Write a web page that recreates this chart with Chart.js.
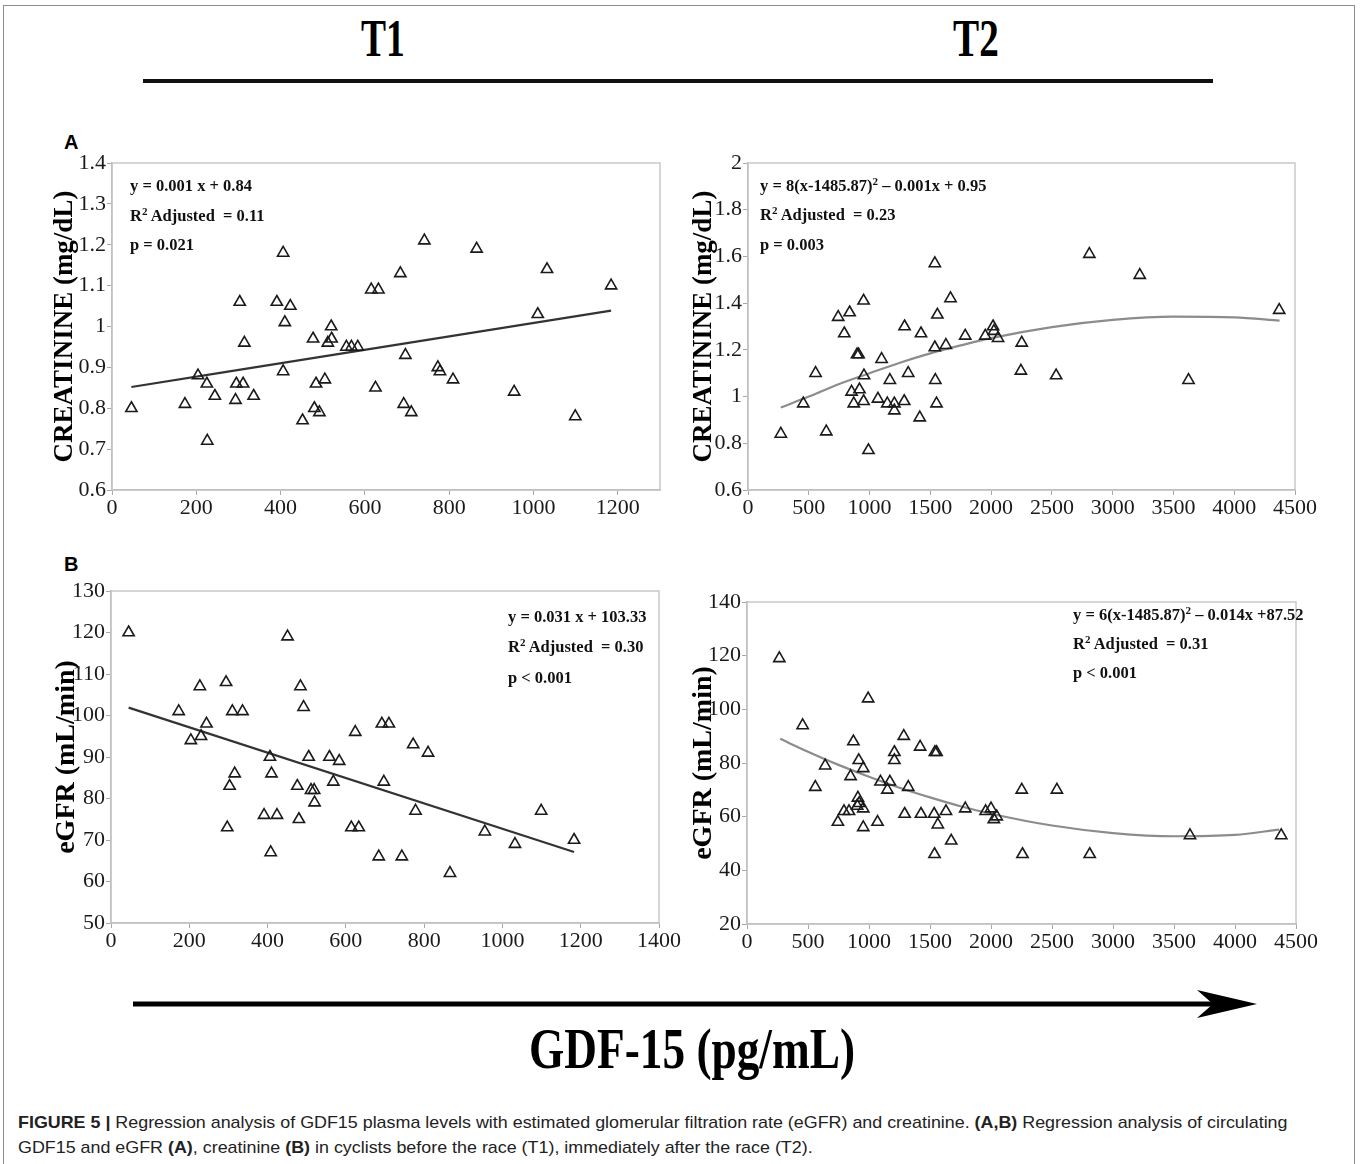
<!DOCTYPE html>
<html>
<head>
<meta charset="utf-8">
<script src="https://cdn.jsdelivr.net/npm/chart.js@4.4.0/dist/chart.umd.min.js"></script>
<style>
body { margin: 0; background: #fff; }
#page { position: relative; width: 1360px; height: 1164px; overflow: hidden; }
.frame { position: absolute; left: 3px; top: 5px; width: 1350px; height: 1200px; border: 1px solid #8c8c8c; }
canvas { position: absolute; }
.t { position: absolute; white-space: nowrap; line-height: 1; font-family: "Liberation Serif", serif; font-weight: bold; color: #000; }
.note { position: absolute; white-space: nowrap; line-height: 1; font: bold 16.5px "Liberation Serif", serif; color: #111; }
.note sup { font-size: 11px; vertical-align: 6px; line-height: 0; }
.letter { position: absolute; line-height: 1; font: bold 20px "Liberation Sans", sans-serif; color: #000; }
.cap { position: absolute; left: 18px; white-space: nowrap; line-height: 1; font: 17px "Liberation Sans", sans-serif; color: #222; transform-origin: 0 0; }
</style>
</head>
<body>
<div id="page">
  <div class="frame"></div>

  <div class="t" id="h1" style="font-size:52px; top:13px;">T1</div>
  <div class="t" id="h2" style="font-size:52px; top:13px;">T2</div>
  <svg style="position:absolute;left:0;top:0" width="1360" height="1164">
    <line x1="143" y1="81" x2="1213" y2="81" stroke="#111" stroke-width="4"/>
    <line x1="133" y1="1004" x2="1215" y2="1004" stroke="#000" stroke-width="5"/>
    <path d="M1257,1004 L1197,990 L1213,1004 L1197,1018 Z" fill="#000"/>
  </svg>

  <div class="letter" style="left:64px; top:131px;">A</div>
  <div class="letter" style="left:64px; top:553px;">B</div>

  <canvas id="crT1" width="645" height="380" style="left:40px; top:140px;"></canvas>
  <canvas id="crT2" width="644" height="380" style="left:676px; top:140px;"></canvas>
  <canvas id="gfT1" width="645" height="385" style="left:39px; top:568px;"></canvas>
  <canvas id="gfT2" width="646" height="375" style="left:675px; top:579px;"></canvas>

  <div class="note" style="left:130px; top:176px;">y = 0.001 x + 0.84</div>
  <div class="note" style="left:130px; top:206px;">R<sup>2</sup> Adjusted&nbsp; = 0.11</div>
  <div class="note" style="left:130px; top:235px;">p = 0.021</div>

  <div class="note" style="left:760px; top:176px;">y = 8(x-1485.87)<sup>2</sup> – 0.001x + 0.95</div>
  <div class="note" style="left:760px; top:205px;">R<sup>2</sup> Adjusted&nbsp; = 0.23</div>
  <div class="note" style="left:760px; top:235px;">p = 0.003</div>

  <div class="note" style="left:508px; top:607px;">y = 0.031 x + 103.33</div>
  <div class="note" style="left:508px; top:637px;">R<sup>2</sup> Adjusted&nbsp; = 0.30</div>
  <div class="note" style="left:508px; top:668px;">p &lt; 0.001</div>

  <div class="note" style="left:1073px; top:605px;">y = 6(x-1485.87)<sup>2</sup> – 0.014x +87.52</div>
  <div class="note" style="left:1073px; top:634px;">R<sup>2</sup> Adjusted&nbsp; = 0.31</div>
  <div class="note" style="left:1073px; top:663px;">p &lt; 0.001</div>

  <div class="t" id="gdf" style="font-size:57px; top:1020px;">GDF-15 (pg/mL)</div>

  <div class="cap" id="cap1" style="top:1113px;"><b>FIGURE 5 |</b> Regression analysis of GDF15 plasma levels with estimated glomerular filtration rate (eGFR) and creatinine. <b>(A,B)</b> Regression analysis of circulating</div>
  <div class="cap" id="cap2" style="top:1138px;">GDF15 and eGFR <b>(A)</b>, creatinine <b>(B)</b> in cyclists before the race (T1), immediately after the race (T2).</div>
</div>

<script>
// ---- A, T1: creatinine vs GDF-15 ----
var crT1_x = [46, 173, 204, 225, 226, 244, 293, 295, 311, 303, 314, 336, 391, 406, 410, 406, 423, 452, 477, 480, 484, 492, 505, 512, 520, 521, 556, 568, 583, 615, 632, 625, 684, 696, 692, 710, 741, 773, 778, 809, 865, 954, 1010, 1032, 1099, 1184];
var crT1_y = [0.80, 0.81, 0.88, 0.86, 0.72, 0.83, 0.82, 0.86, 0.86, 1.06, 0.96, 0.83, 1.06, 1.18, 1.01, 0.89, 1.05, 0.77, 0.97, 0.80, 0.86, 0.79, 0.87, 0.96, 1.00, 0.97, 0.95, 0.95, 0.95, 1.09, 1.09, 0.85, 1.13, 0.93, 0.81, 0.79, 1.21, 0.90, 0.89, 0.87, 1.19, 0.84, 1.03, 1.14, 0.78, 1.10];
var crT1_fitX = [46, 1184];
var crT1_fitY = [0.852, 1.039];
var crT1_xTicks = [0, 200, 400, 600, 800, 1000, 1200];
var crT1_yTicks = [0.6, 0.7, 0.8, 0.9, 1, 1.1, 1.2, 1.3, 1.4];

// ---- A, T2: creatinine vs GDF-15 ----
var crT2_x = [270, 455, 556, 644, 742, 792, 836, 852, 870, 897, 910, 917, 951, 954, 951, 991, 1069, 1099, 1146, 1167, 1204, 1204, 1285, 1288, 1318, 1413, 1423, 1537, 1537, 1541, 1551, 1558, 1628, 1666, 1787, 1952, 2016, 2023, 2057, 2252, 2245, 2535, 2808, 3223, 3624, 4370];
var crT2_y = [0.84, 0.97, 1.10, 0.85, 1.34, 1.27, 1.36, 1.02, 0.97, 1.18, 1.18, 1.03, 1.41, 1.09, 0.98, 0.77, 0.99, 1.16, 0.97, 1.07, 0.97, 0.94, 0.98, 1.30, 1.10, 0.91, 1.27, 1.57, 1.21, 1.07, 0.97, 1.35, 1.22, 1.42, 1.26, 1.26, 1.30, 1.28, 1.25, 1.23, 1.11, 1.09, 1.61, 1.52, 1.07, 1.37];
var crT2_fitX = [270, 500, 750, 1000, 1250, 1500, 1750, 2000, 2500, 3000, 3500, 4000, 4373];
var crT2_fitY = [0.953, 1.00, 1.054, 1.10, 1.145, 1.185, 1.219, 1.25, 1.297, 1.328, 1.342, 1.339, 1.325];
var crT2_xTicks = [0, 500, 1000, 1500, 2000, 2500, 3000, 3500, 4000, 4500];
var crT2_yTicks = [0.6, 0.8, 1, 1.2, 1.4, 1.6, 1.8, 2];

// ---- B, T1: eGFR vs GDF-15 ----
var gfT1_x = [45, 173, 204, 227, 230, 244, 294, 297, 303, 310, 316, 336, 391, 406, 408, 410, 424, 451, 476, 480, 484, 492, 505, 511, 519, 520, 558, 568, 583, 614, 624, 633, 684, 692, 697, 710, 743, 772, 778, 810, 866, 955, 1032, 1099, 1183];
var gfT1_y = [120, 101, 94, 107, 95, 98, 108, 73, 83, 101, 86, 101, 76, 90, 67, 86, 76, 119, 83, 75, 107, 102, 90, 82, 82, 79, 90, 84, 89, 73, 96, 73, 66, 98, 84, 98, 66, 93, 77, 91, 62, 72, 69, 77, 70];
var gfT1_fitX = [45, 1183];
var gfT1_fitY = [101.9, 67.1];
var gfT1_xTicks = [0, 200, 400, 600, 800, 1000, 1200, 1400];
var gfT1_yTicks = [50, 60, 70, 80, 90, 100, 110, 120, 130];

// ---- B, T2: eGFR vs GDF-15 ----
var gfT2_x = [265, 456, 560, 641, 745, 795, 836, 849, 872, 903, 909, 916, 919, 953, 953, 953, 993, 1070, 1094, 1151, 1171, 1208, 1208, 1285, 1292, 1322, 1419, 1426, 1534, 1537, 1540, 1554, 1564, 1631, 1674, 1789, 1956, 2000, 2023, 2047, 2252, 2258, 2540, 2809, 3631, 4379];
var gfT2_y = [119, 94, 71, 79, 58, 62, 62, 75, 88, 64, 67, 81, 65, 78, 63, 56, 104, 58, 73, 70, 73, 84, 81, 90, 61, 71, 86, 61, 61, 46, 84, 84, 57, 62, 51, 63, 62, 63, 59, 60, 70, 46, 70, 46, 53, 53];
var gfT2_fitX = [272, 500, 750, 1000, 1250, 1500, 1750, 2000, 2500, 3000, 3500, 4000, 4362];
var gfT2_fitY = [89.0, 84.2, 79.3, 74.9, 70.8, 67.2, 63.9, 61.1, 56.7, 53.9, 52.7, 53.2, 55.2];
var gfT2_xTicks = [0, 500, 1000, 1500, 2000, 2500, 3000, 3500, 4000, 4500];
var gfT2_yTicks = [20, 40, 60, 80, 100, 120, 140];

function toPoints(xs, ys) {
    var out = [];
    for (var i = 0; i < xs.length; i++) out.push({ x: xs[i], y: ys[i] });
    return out;
}

function fmt(v) {
    return String(Number(v.toFixed(2)));
}

// light grey box round the plot area
var boxPlugin = {
    id: 'box',
    beforeDatasetsDraw: function (chart) {
        var a = chart.chartArea, c = chart.ctx;
        c.save();
        c.strokeStyle = '#c9c9c9';
        c.lineWidth = 1.5;
        c.strokeRect(a.left, a.top, a.right - a.left, a.bottom - a.top);
        c.restore();
    }
};

function panel(id, xs, ys, fitX, fitY, fitColor, xTicks, yTicks, xMax, yTitle, titleSize, titlePad) {
    return new Chart(document.getElementById(id), {
        type: 'scatter',
        data: {
            datasets: [{
                data: toPoints(xs, ys),
                pointStyle: 'triangle',
                pointRadius: 6.5,
                borderColor: '#1a1a1a',
                borderWidth: 1.6,
                backgroundColor: 'rgba(255,255,255,0)'
            }, {
                data: toPoints(fitX, fitY),
                showLine: true,
                pointRadius: 0,
                borderColor: fitColor,
                borderWidth: 2.2,
                cubicInterpolationMode: 'monotone'
            }]
        },
        options: {
            responsive: false,
            animation: false,
            events: [],
            layout: { padding: { top: 23, right: 25, left: 0, bottom: 0 } },
            plugins: { legend: { display: false }, tooltip: { enabled: false } },
            scales: {
                x: {
                    type: 'linear',
                    min: xTicks[0],
                    max: xMax,
                    afterBuildTicks: function (s) { s.ticks = xTicks.map(function (v) { return { value: v }; }); },
                    afterFit: function (s) { s.height = 30; },
                    grid: { drawOnChartArea: false, tickLength: 5, color: '#a8a8a8' },
                    border: { color: '#a8a8a8', width: 1.5 },
                    ticks: { font: { family: 'Liberation Serif', size: 22 }, color: '#1a1a1a', padding: 0, maxRotation: 0, autoSkip: false, callback: fmt }
                },
                y: {
                    type: 'linear',
                    min: yTicks[0],
                    max: yTicks[yTicks.length - 1],
                    afterBuildTicks: function (s) { s.ticks = yTicks.map(function (v) { return { value: v }; }); },
                    afterFit: function (s) { s.width = 72; },
                    grid: { drawOnChartArea: false, tickLength: 5, color: '#a8a8a8' },
                    border: { color: '#a8a8a8', width: 1.5 },
                    ticks: { font: { family: 'Liberation Serif', size: 22 }, color: '#1a1a1a', padding: 1, autoSkip: false, callback: fmt },
                    title: {
                        display: true,
                        text: yTitle,
                        color: '#000',
                        font: { family: 'Liberation Serif', size: titleSize, weight: 'bold' },
                        padding: { top: titlePad, bottom: 0 }
                    }
                }
            }
        },
        plugins: [boxPlugin]
    });
}

panel('crT1', crT1_x, crT1_y, crT1_fitX, crT1_fitY, '#333333', crT1_xTicks, crT1_yTicks, 1300, 'CREATININE (mg/dL)', 27, 9);
panel('crT2', crT2_x, crT2_y, crT2_fitX, crT2_fitY, '#8c8c8c', crT2_xTicks, crT2_yTicks, 4500, 'CREATININE (mg/dL)', 27, 12);
panel('gfT1', gfT1_x, gfT1_y, gfT1_fitX, gfT1_fitY, '#333333', gfT1_xTicks, gfT1_yTicks, 1400, 'eGFR (mL/min)', 28, 11);
panel('gfT2', gfT2_x, gfT2_y, gfT2_fitX, gfT2_fitY, '#8c8c8c', gfT2_xTicks, gfT2_yTicks, 4500, 'eGFR (mL/min)', 28, 12);

// condensed headings, centred on the points
function squeeze(id, cx, width) {
    var el = document.getElementById(id);
    var w = el.offsetWidth;
    var k = width / w;
    el.style.transformOrigin = '0 0';
    el.style.transform = 'scaleX(' + k + ')';
    el.style.left = (cx - width / 2) + 'px';
}
squeeze('h1', 383, 44);
squeeze('h2', 976, 46);
squeeze('gdf', 692, 326);

// both caption lines share the squeeze of the first, full-width line
var cap1 = document.getElementById('cap1');
var capK = 1270 / cap1.offsetWidth;
cap1.style.transform = 'scaleX(' + capK + ')';
document.getElementById('cap2').style.transform = 'scaleX(' + capK + ')';
</script>
</body>
</html>
